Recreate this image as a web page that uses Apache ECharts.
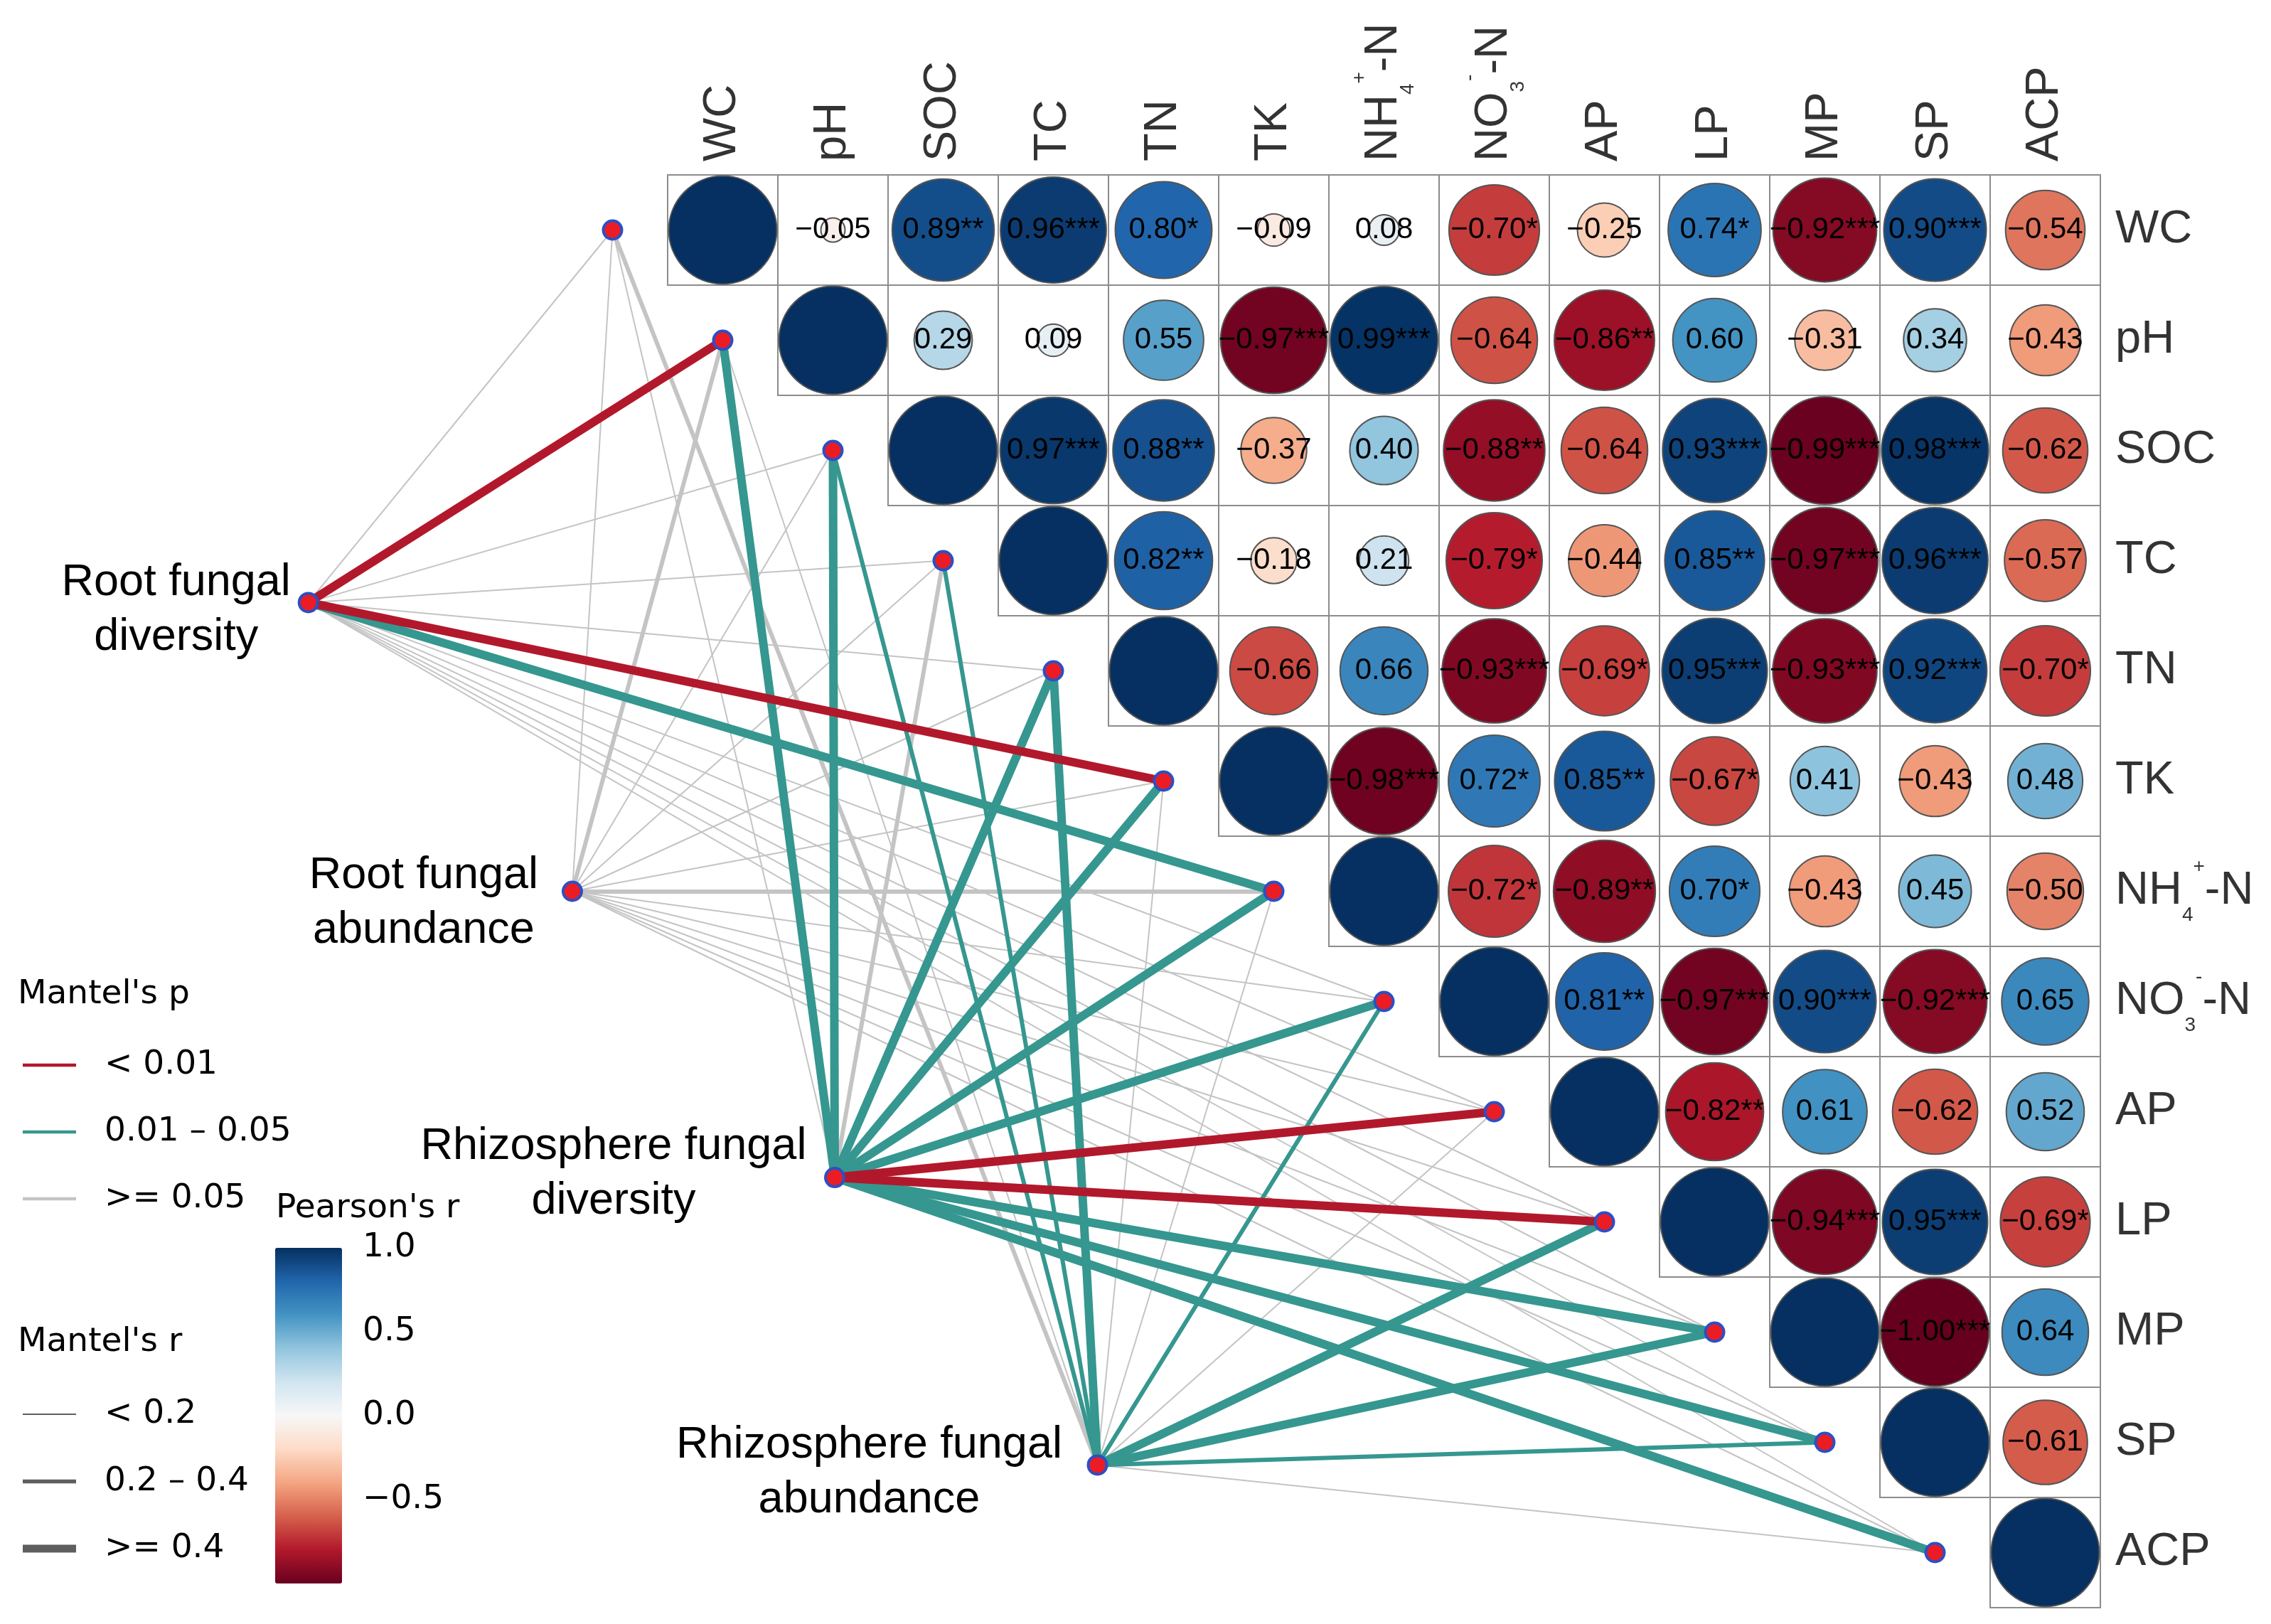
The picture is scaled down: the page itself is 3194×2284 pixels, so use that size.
<!DOCTYPE html>
<html>
<head>
<meta charset="utf-8">
<script src="https://cdn.jsdelivr.net/npm/echarts@6/dist/echarts.min.js"></script>
<style>html,body{margin:0;padding:0;background:#fff}#c{width:3194px;height:2284px}</style>
</head>
<body>
<div id="c"></div>
<script>
// ---------------- DATA ----------------
const variables = ['WC','pH','SOC','TC','TN','TK','NH4+-N','NO3--N','AP','LP','MP','SP','ACP'];
const variableLabels = ['{n|WC}','{n|pH}','{n|SOC}','{n|TC}','{n|TN}','{n|TK}',
  '{n|NH}{sub|4}{sup|+}{n|-N}','{n|NO}{sub|3}{sup|-}{n|-N}',
  '{n|AP}','{n|LP}','{n|MP}','{n|SP}','{n|ACP}'];

// Pearson's r, upper triangle (row i, columns i+1..12)
const corrUpper = [
  [-0.05, 0.89, 0.96, 0.80, -0.09, 0.08, -0.70, -0.25, 0.74, -0.92, 0.90, -0.54],
  [0.29, 0.09, 0.55, -0.97, 0.99, -0.64, -0.86, 0.60, -0.31, 0.34, -0.43],
  [0.97, 0.88, -0.37, 0.40, -0.88, -0.64, 0.93, -0.99, 0.98, -0.62],
  [0.82, -0.18, 0.21, -0.79, -0.44, 0.85, -0.97, 0.96, -0.57],
  [-0.66, 0.66, -0.93, -0.69, 0.95, -0.93, 0.92, -0.70],
  [-0.98, 0.72, 0.85, -0.67, 0.41, -0.43, 0.48],
  [-0.72, -0.89, 0.70, -0.43, 0.45, -0.50],
  [0.81, -0.97, 0.90, -0.92, 0.65],
  [-0.82, 0.61, -0.62, 0.52],
  [-0.94, 0.95, -0.69],
  [-1.00, 0.64],
  [-0.61],
  []
];
const starsUpper = [
  ['', '**', '***', '*', '', '', '*', '', '*', '***', '***', ''],
  ['', '', '', '***', '***', '', '**', '', '', '', ''],
  ['***', '**', '', '', '**', '', '***', '***', '***', ''],
  ['**', '', '', '*', '', '**', '***', '***', ''],
  ['', '', '***', '*', '***', '***', '***', '*'],
  ['***', '*', '**', '*', '', '', ''],
  ['*', '**', '*', '', '', ''],
  ['**', '***', '***', '***', ''],
  ['**', '', '', ''],
  ['***', '***', '*'],
  ['***', ''],
  [''],
  []
];

// Mantel tests: p class (0:<0.01, 1:0.01-0.05, 2:>=0.05), r class (0:<0.2, 1:0.2-0.4, 2:>=0.4)
const mantelSources = ['Root fungal\ndiversity', 'Root fungal\nabundance',
  'Rhizosphere fungal\ndiversity', 'Rhizosphere fungal\nabundance'];
const mantelP = [
  [2, 0, 2, 2, 2, 0, 1, 2, 2, 2, 2, 2, 2],
  [2, 2, 2, 2, 2, 2, 2, 2, 2, 2, 2, 2, 2],
  [2, 1, 1, 2, 1, 1, 1, 1, 0, 0, 1, 1, 1],
  [2, 2, 1, 1, 1, 2, 2, 1, 2, 1, 1, 1, 2]
];
const mantelR = [
  [0, 2, 0, 0, 0, 2, 2, 0, 0, 0, 0, 0, 0],
  [0, 1, 0, 0, 0, 0, 1, 0, 0, 0, 0, 0, 0],
  [0, 2, 2, 1, 2, 2, 2, 2, 2, 2, 2, 2, 2],
  [1, 0, 1, 1, 2, 0, 0, 1, 0, 2, 2, 1, 0]
];
const pLabels = ['< 0.01', '0.01 \u2013 0.05', '>= 0.05'];
const rLabels = ['< 0.2', '0.2 \u2013 0.4', '>= 0.4'];
const colorbarTicks = [1.0, 0.5, 0.0, -0.5];

// ---------------- LAYOUT / STYLE ----------------
const W = 3194, H = 2284, CELL = 155, OX = 939, OY = 246;
const xMin = -OX / CELL - 0.5, xMax = (W - OX) / CELL - 0.5;
const yMin = -OY / CELL - 0.5, yMax = (H - OY) / CELL - 0.5;
const sourcePos = [[-3.76, 3.38], [-1.365, 6.0], [1.016, 8.597], [3.40, 11.206]];
const sourceLabelOffset = [[-186, 11], [-209, 17], [-311, -5], [-321, 11]];
const pColors = ['#B2182B', '#35978F', '#C4C4C4'];
const rWidths = [2, 6, 12];
const rdbu = ['#67001F', '#B2182B', '#D6604D', '#F4A582', '#FDDBC7', '#F7F7F7',
  '#D1E5F0', '#92C5DE', '#4393C3', '#2166AC', '#053061'];
const FONT = 'Liberation Sans, Arial, sans-serif';
const LFONT = 'DejaVu Sans, sans-serif';
const fmt = v => (v < 0 ? '\u2212' : '') + Math.abs(v).toFixed(2);

// ---------------- BUILD ----------------
const n = variables.length;
const cellData = [];
const circleData = [];
for (let i = 0; i < n; i++) {
  for (let j = i; j < n; j++) {
    cellData.push([j, i]);
    if (j === i) {
      circleData.push({ value: [j, i, 1], name: '', label: { show: false } });
    } else {
      const v = corrUpper[i][j - i - 1];
      circleData.push({ value: [j, i, v], name: fmt(v) + starsUpper[i][j - i - 1] });
    }
  }
}
const endPoints = variables.map((v, i) => [i - 1, i]);
const edges = [];
for (let s = 0; s < mantelSources.length; s++) {
  for (let v = 0; v < n; v++) edges.push({ s, v, p: mantelP[s][v], r: mantelR[s][v] });
}
edges.sort((a, b) => (b.p - a.p) || (a.r - b.r));
const lineData = edges.map(e => ({
  coords: [sourcePos[e.s], endPoints[e.v]],
  lineStyle: { color: pColors[e.p], width: rWidths[e.r], opacity: 1 }
}));

const rich = {
  n: { fontSize: 65, lineHeight: 96, fontFamily: FONT, color: '#000' },
  sub: { fontSize: 28, lineHeight: 28, verticalAlign: 'bottom', fontFamily: FONT, color: '#000' },
  sup: { fontSize: 28, lineHeight: 86, verticalAlign: 'top', fontFamily: FONT, color: '#000' }
};

// legend graphics
const cbLeft = 387, cbTop = 1755, cbW = 94, cbH = 472;
const graphics = [];
function txt(x, y, text, size) {
  graphics.push({ type: 'text', x: x, y: y, silent: true,
    style: { text: text, fontSize: size || 47, fontFamily: LFONT, fill: '#000',
      align: 'left', verticalAlign: 'middle', textAlign: 'left', textVerticalAlign: 'middle' } });
}
function seg(x1, y1, x2, y2, color, w) {
  graphics.push({ type: 'line', silent: true, shape: { x1, y1, x2, y2 },
    style: { stroke: color, lineWidth: w } });
}
txt(25, 1399, "Mantel's p");
pLabels.forEach((t, k) => { const y = 1498 + 94 * k; seg(32, y, 107, y, pColors[k], 4.5); txt(147, y, t); });
txt(25, 1888, "Mantel's r");
rLabels.forEach((t, k) => { const y = 1989 + 94.5 * k; seg(32, y, 107, y, '#5F5F5F', [2, 5.5, 11][k]); txt(147, y, t); });
txt(388, 1700, "Pearson's r");
colorbarTicks.forEach(v => {
  const y = cbTop + (1 - v) / 2 * cbH;
  txt(510, y, (v < 0 ? '\u2212' : '') + Math.abs(v).toFixed(1));
  if (v < 1) {
    seg(cbLeft, y, cbLeft + 18, y, '#FFFFFF', 2);
    seg(cbLeft + cbW - 18, y, cbLeft + cbW, y, '#FFFFFF', 2);
  }
});

const chart = echarts.init(document.getElementById('c'), null, { renderer: 'canvas' });
chart.setOption({
  animation: false,
  backgroundColor: '#fff',
  grid: { left: 0, top: 0, width: W, height: H },
  xAxis: { type: 'value', min: xMin, max: xMax, show: false },
  yAxis: { type: 'value', min: yMin, max: yMax, inverse: true, show: false },
  visualMap: {
    type: 'continuous', min: -1, max: 1, dimension: 2, seriesIndex: 2,
    inRange: { color: rdbu }, left: cbLeft, top: cbTop, itemWidth: cbW, itemHeight: cbH,
    calculable: false, padding: 0, orient: 'vertical', hoverLink: false
  },
  series: [
    { // 0 cells
      type: 'custom', coordinateSystem: 'cartesian2d', data: cellData, encode: { x: 0, y: 1 },
      silent: true, z: 1,
      renderItem: function (params, api) {
        const p = api.coord([api.value(0) - 0.5, api.value(1) - 0.5]);
        const s = api.size([1, 1]);
        return { type: 'rect', shape: { x: p[0], y: p[1], width: s[0], height: s[1] },
          style: { fill: '#fff', stroke: '#8C8C8C', lineWidth: 2 } };
      }
    },
    { // 1 mantel lines
      type: 'lines', coordinateSystem: 'cartesian2d', data: lineData, silent: true, z: 2,
      lineStyle: { opacity: 1, curveness: 0 }, clip: false
    },
    { // 2 correlation circles
      type: 'scatter', data: circleData, encode: { x: 0, y: 1 }, symbol: 'circle', silent: true, z: 3,
      clip: false,
      symbolSize: v => 152 * Math.sqrt(Math.abs(v[2])),
      itemStyle: { borderColor: '#555555', borderWidth: 2, opacity: 1 },
      label: { show: true, position: 'inside', formatter: '{b}', color: '#000', fontSize: 42, fontFamily: FONT }
    },
    { // 3 end points
      type: 'scatter', data: endPoints, symbol: 'circle', symbolSize: 26, silent: true, z: 5, clip: false,
      itemStyle: { color: '#EC1C24', borderColor: '#2C4FC4', borderWidth: 4, opacity: 1 }
    },
    { // 4 source nodes
      type: 'scatter', symbol: 'circle', symbolSize: 26, silent: true, z: 5, clip: false,
      data: mantelSources.map((name, k) => ({ name: name, value: sourcePos[k],
        label: { offset: sourceLabelOffset[k] } })),
      itemStyle: { color: '#EC1C24', borderColor: '#2C4FC4', borderWidth: 4, opacity: 1 },
      label: { show: true, position: 'inside', formatter: '{b}', align: 'center', verticalAlign: 'middle',
        fontSize: 63, lineHeight: 77, color: '#000', fontFamily: FONT }
    },
    { // 5 row labels
      type: 'scatter', symbolSize: 0, silent: true, z: 6, clip: false,
      data: variables.map((v, i) => ({ name: variableLabels[i], value: [n - 0.5, i] })),
      label: { show: true, position: 'right', distance: 21, formatter: '{b}', align: 'left',
        verticalAlign: 'middle', rich: rich }
    },
    { // 6 column labels
      type: 'scatter', symbolSize: 0, silent: true, z: 6, clip: false,
      data: variables.map((v, i) => ({ name: variableLabels[i], value: [i, -0.5] })),
      label: { show: true, position: 'top', distance: 19, rotate: 90, formatter: '{b}', align: 'left',
        verticalAlign: 'middle', rich: rich }
    }
  ],
  graphic: graphics
});
</script>
</body>
</html>
